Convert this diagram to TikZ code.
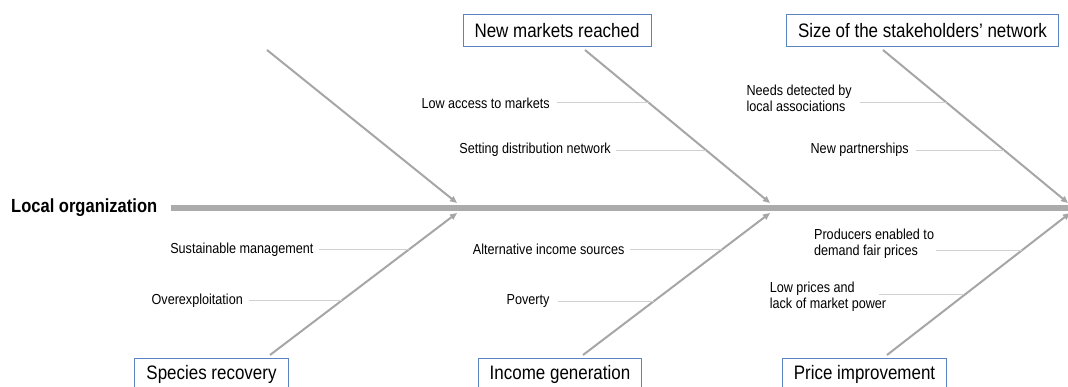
\documentclass[tikz,border=0pt]{standalone}
\usepackage{fontspec}
\setmainfont{Liberation Sans}[FakeStretch=0.87]
\usetikzlibrary{arrows.meta, positioning}

\definecolor{bonegray}{HTML}{A6A6A6}
\definecolor{spinegray}{HTML}{ABABAB}
\definecolor{leadgray}{HTML}{D0D0D0}
\definecolor{boxblue}{HTML}{5B83C2}

\tikzset{
  effect/.style={draw=boxblue, line width=1pt, minimum height=32pt, inner xsep=11.5pt, inner ysep=0pt, anchor=north, font=\fontsize{19.5}{22}\selectfont},
  cause/.style={inner sep=0pt, align=left, font=\fontsize{14.5}{16}\selectfont},
  bone/.style={draw=bonegray, line width=2pt, -{Triangle[length=7pt,width=6pt]}},
  spine/.style={draw=spinegray, line width=6pt},
  leader/.style={draw=leadgray, line width=0.9pt},
}

\begin{document}
\begin{tikzpicture}[x=1pt, y=-1pt]
  \clip (0,0) rectangle (1068,387);

  % Head and spine
  \node[inner sep=0pt, anchor=west, font=\bfseries\fontsize{19}{22}\selectfont] (lo) at (11,208) {Local organization};
  \coordinate (head) at (1068,208);
  \draw[spine] ([xshift=14pt]lo.east) -- (head);

  % Effect boxes
  \node[effect] (nmr) at (557,14) {New markets reached};
  \node[effect] (ssn) at (922.5,14) {Size of the stakeholders' network};
  \node[effect] (spr) at (211.5,358) {Species recovery};
  \node[effect] (ing) at (560,358) {Income generation};
  \node[effect] (pri) at (864.5,358) {Price improvement};

  % Upper bones
  \coordinate (s1) at (267,50);  \coordinate (t1) at (457,203);
  \coordinate (s2) at (585,50);  \coordinate (t2) at (770,203);
  \coordinate (s3) at (883,50);  \coordinate (t3) at (1068,203);
  \draw[bone] (s1) -- (t1);
  \draw[bone] (s2) -- (t2);
  \draw[bone] (s3) -- (t3);

  % Lower bones
  \coordinate (u1) at (270,355); \coordinate (v1) at (457,213);
  \coordinate (u2) at (583,355); \coordinate (v2) at (770,213);
  \coordinate (u3) at (887,355); \coordinate (v3) at (1070,213);
  \draw[bone] (u1) -- (v1);
  \draw[bone] (u2) -- (v2);
  \draw[bone] (u3) -- (v3);

  % Points where the causes meet the bones
  \path (s2) -- (t2) coordinate[pos=.346] (b2a) coordinate[pos=.654] (b2b);
  \path (s3) -- (t3) coordinate[pos=.346] (b3a) coordinate[pos=.654] (b3b);
  \path (u1) -- (v1) coordinate[pos=.741] (c1a) coordinate[pos=.385] (c1b);
  \path (u2) -- (v2) coordinate[pos=.741] (c2a) coordinate[pos=.378] (c2b);
  \path (u3) -- (v3) coordinate[pos=.739] (c3a) coordinate[pos=.423] (c3b);

  % Causes, upper side
  \node[cause, left=99pt of b2a] (lam) {Low access to markets};
  \draw[leader] ([xshift=7pt]lam.east |- b2a) -- (b2a);
  \node[cause, left=95pt of b2b] (sdn) {Setting distribution network};
  \draw[leader] ([xshift=5pt]sdn.east |- b2b) -- (b2b);
  \node[cause, left=95pt of b3a, yshift=5pt] (ndl) {Needs detected by\\local associations};
  \draw[leader] ([xshift=8pt]ndl.east |- b3a) -- (b3a);
  \node[cause, left=95pt of b3b] (npa) {New partnerships};
  \draw[leader] ([xshift=7pt]npa.east |- b3b) -- (b3b);

  % Causes, lower side
  \node[cause, left=95pt of c1a] (sum) {Sustainable management};
  \draw[leader] ([xshift=5pt]sum.east |- c1a) -- (c1a);
  \node[cause, left=99pt of c1b] (ovx) {Overexploitation};
  \draw[leader] ([xshift=6pt]ovx.east |- c1b) -- (c1b);
  \node[cause, left=97pt of c2a] (ais) {Alternative income sources};
  \draw[leader] ([xshift=5pt]ais.east |- c2a) -- (c2a);
  \node[cause, left=104pt of c2b] (pov) {Poverty};
  \draw[leader] ([xshift=8pt]pov.east |- c2b) -- (c2b);
  \node[cause, left=88pt of c3a, yshift=6pt] (pfp) {Producers enabled to\\demand fair prices};
  \draw[leader] ([xshift=2pt]pfp.east |- c3a) -- (c3a);
  \node[cause, left=78pt of c3b, yshift=-2pt] (lmp) {Low prices and\\lack of market power};
  \draw[leader] ([xshift=-7pt]lmp.east |- c3b) -- (c3b);
\end{tikzpicture}
\end{document}
